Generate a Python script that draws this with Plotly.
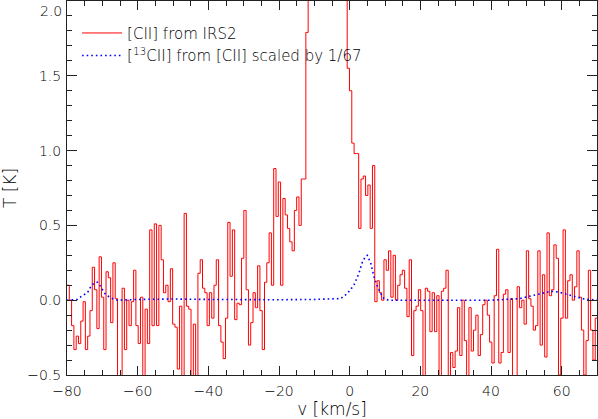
import numpy as np
import plotly.graph_objects as go

# ---------------- data ----------------
channel_width = 0.65          # km/s
v_start = -80.0               # km/s, left edge of first channel

cii_T = [
    # -80 .. -58 km/s
    0.10, 0.00, -0.17, -0.33, -0.24, -0.29, -0.14, -0.01, -0.33, -0.24,
    -0.07, 0.22, 0.07, -0.19, 0.29, 0.02, -0.33, 0.19, 0.15, -0.15,
    0.25, 0.01, -0.60, -0.60, 0.08, -0.33, 0.00, -0.17, -0.01, 0.20,
    -0.17, -0.29, 0.02, -0.60,
    # -58 .. -36 km/s
    -0.06, -0.29, 0.47, -0.17, 0.51, -0.17, 0.50, 0.27, 0.05, 0.10,
    -0.01, 0.21, -0.16, -0.18, -0.46, -0.04, -0.60, 0.58, -0.04, -0.06,
    -0.60, -0.16, -0.60, 0.18, 0.27, 0.08, 0.05, -0.17, 0.05, -0.12,
    0.10, 0.27, -0.17, -0.28,
    # -36 .. -12 km/s
    -0.39, -0.12, 0.52, 0.16, 0.47, -0.13, -0.02, -0.03, 0.28, 0.60,
    0.07, -0.30, -0.15, 0.05, -0.05, 0.23, -0.07, -0.33, 0.12, 0.25,
    0.45, 0.10, 0.88, 0.56, 0.79, 0.10, 0.68, 0.57, 0.48, 0.39,
    0.33, 0.60, 0.69, 0.50, 0.81, 0.81, 1.79,
    # main peak (off scale)
    2.4, 3.5, 5.0, 6.8, 8.5, 10.2, 11.6, 12.4, 12.8, 12.3,
    11.0, 9.2, 7.4, 5.6, 4.1, 3.0, 2.2,
    # 0 .. 70 km/s
    1.55, 1.40, 1.05, 0.98, 0.98, 0.48, 0.81, 0.83, 0.70, 0.77,
    0.48, 0.90, -0.01, 0.13, 0.05, 0.00, 0.27, 0.20, 0.33, 0.02,
    0.30, 0.00, 0.10, 0.17, 0.20, 0.08, -0.11, 0.27, -0.37, -0.07,
    -0.04, 0.07, -0.07, -0.60, 0.08, 0.06, -0.21, 0.05, -0.21, 0.03,
    -0.60, 0.06, 0.08, 0.20, -0.60, -0.35, -0.45, -0.34, -0.05, -0.37,
    0.00, -0.27, -0.60, -0.05, -0.34, -0.20, -0.10, -0.37, -0.23, -0.03,
    0.00, -0.10, -0.28, -0.42, 0.03, 0.34, -0.42, -0.35, 0.04, 0.07,
    -0.35, 0.01, -0.60, -0.60, 0.09, -0.05, 0.00, -0.16, 0.33, 0.01,
    -0.04, -0.20, -0.17, 0.33, -0.30, 0.17, -0.38, 0.45, 0.03, 0.07,
    0.37, 0.28, -0.50, -0.12, 0.47, -0.12, 0.13, 0.17, 0.00, 0.09,
    0.33, 0.02, -0.20, -0.50, -0.27, 0.20, -0.20, -0.40, -0.12, -0.20,
]
cii_v = v_start + channel_width * np.arange(len(cii_T))

c13_v = [-80, -78, -77.1, -75.7, -74.2, -73.3, -72.3, -71.4, -70.4, -69.5,
         -68.6, -67.1, -65.7, -60, -50, -40, -30, -20, -10, -5,
         -2.5, -0.7, 1.2, 2.6, 3.6, 4.5, 5.0, 6.0, 6.9, 7.9,
         8.8, 9.7, 11, 20, 30, 40, 48, 52, 55, 57,
         59, 62, 66, 70]
c13_T = [0.0, 0.0, 0.005, 0.03, 0.05, 0.09, 0.115, 0.12, 0.09, 0.05,
         0.03, 0.01, 0.0, 0.005, 0.008, 0.005, 0.003, 0.003, 0.005, 0.01,
         0.011, 0.044, 0.10, 0.178, 0.255, 0.293, 0.30, 0.245, 0.155, 0.089,
         0.044, 0.011, 0.0, 0.0, 0.0, 0.0, 0.01, 0.03, 0.045, 0.06,
         0.055, 0.035, 0.01, 0.0]

names = ["[CII] from IRS2", "[<sup>13</sup>CII] from [CII] scaled by 1/67"]
x_ticks = [-80, -60, -40, -20, 0, 20, 40, 60]
y_ticks = [-0.5, 0.0, 0.5, 1.0, 1.5, 2.0]
y_ticklabels = ["\u22120.5", "0.0", "0.5", "1.0", "1.5", "2.0"]
x_range = [-80, 70]
y_range = [-0.5, 2.0]

# ---------------- figure ----------------
FONT = dict(family="DejaVu Sans", size=14, color="#000000", weight=300)
AX = "#222222"

fig = go.Figure()
fig.add_trace(go.Scatter(x=cii_v, y=cii_T, mode="lines", name=names[0],
                         line=dict(color="#ff0000", width=1, shape="hv")))
fig.add_trace(go.Scatter(x=c13_v, y=c13_T, mode="lines", name=names[1],
                         line=dict(color="#0000ff", width=1.6, dash="1.6px,3px")))

fig.update_layout(
    width=598, height=419,
    margin=dict(l=67, r=1, t=1, b=44),
    paper_bgcolor="white", plot_bgcolor="white",
    font=FONT,
    showlegend=True,
    legend=dict(x=0.019, y=0.958, xanchor="left", yanchor="top",
                itemwidth=40,
                bgcolor="rgba(0,0,0,0)", font=dict(size=15)),
    xaxis=dict(range=x_range, tickvals=x_ticks, showgrid=False, zeroline=False,
               showline=True, linecolor=AX, linewidth=1, mirror="ticks",
               ticks="inside", ticklen=9, tickcolor=AX, tickwidth=1,
               minor=dict(ticks="inside", ticklen=5, dtick=5, tickcolor=AX, showgrid=False),
               ticklabelstandoff=3, automargin=False,
               title=dict(text="v [km/s]", standoff=5)),
    yaxis=dict(range=y_range, tickvals=y_ticks,
               ticktext=y_ticklabels[:-1] + [""],
               showgrid=False, zeroline=False,
               showline=True, linecolor=AX, linewidth=1, mirror="ticks",
               ticks="inside", ticklen=10, tickcolor=AX, tickwidth=1,
               minor=dict(ticks="inside", ticklen=5, dtick=0.1, tickcolor=AX, showgrid=False),
               ticklabelstandoff=2, automargin=False,
               title=dict(text="T [K]", standoff=14)),
)
fig.add_annotation(x=0, xref="paper", y=y_ticks[-1], yref="y",
                   text=y_ticklabels[-1], showarrow=False,
                   xanchor="right", yanchor="top", xshift=-3, font=FONT)

fig.write_html("out.html", config={"displayModeBar": False},
               post_script="document.body.style.margin='0';")
